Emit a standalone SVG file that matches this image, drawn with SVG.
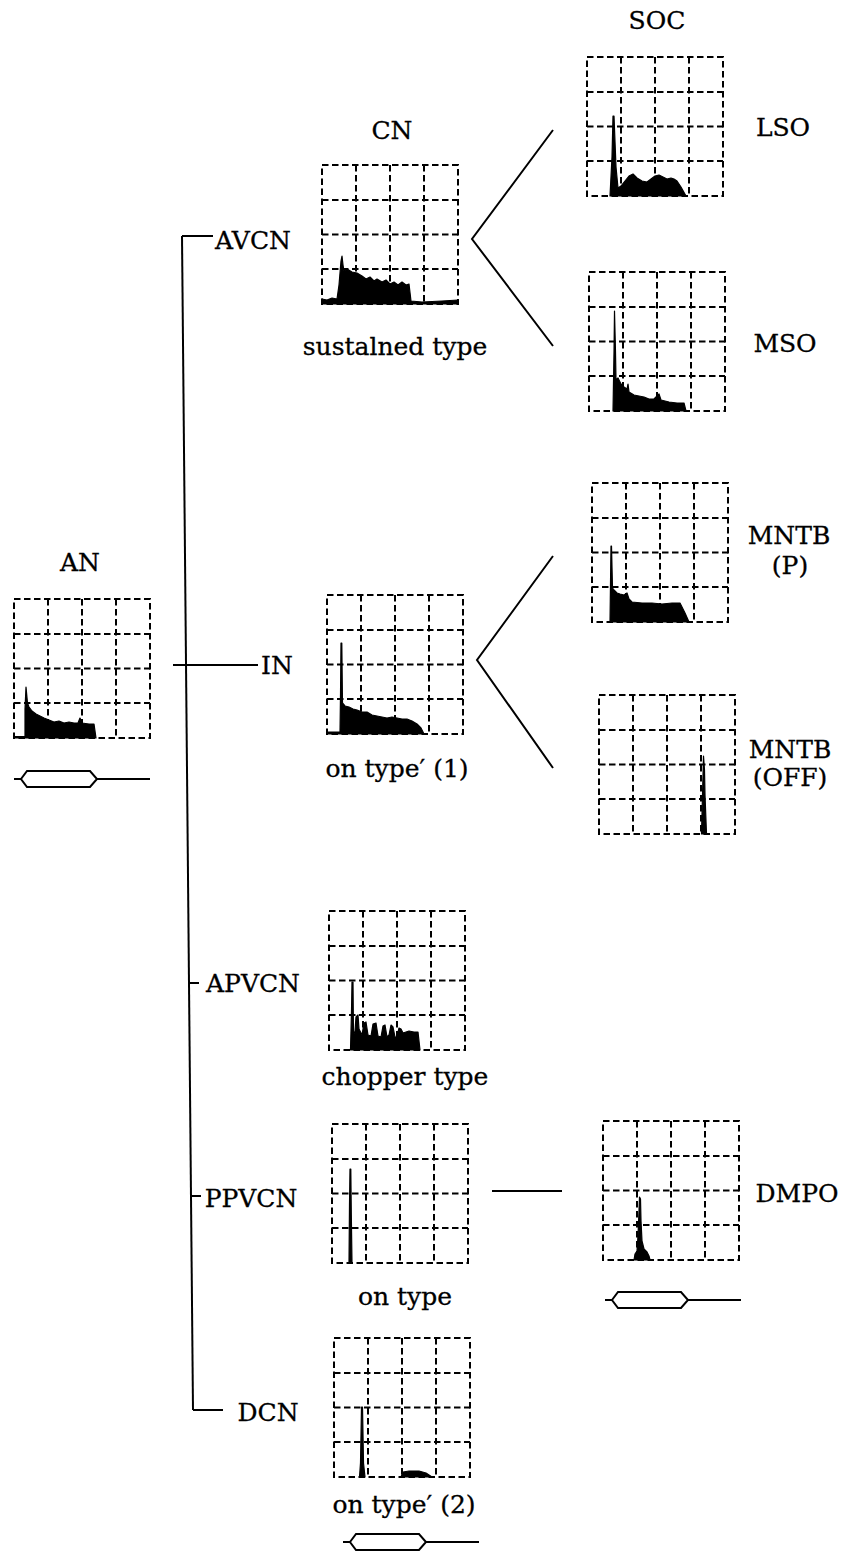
<svg xmlns="http://www.w3.org/2000/svg" xmlns:xlink="http://www.w3.org/1999/xlink" width="842" height="1552" viewBox="0 0 842 1552">
<style>
.lbl{font-family:"DejaVu Serif","Liberation Serif",serif;font-size:25px;fill:#000;stroke:#000;stroke-width:0.3;text-anchor:middle}
.grid{fill:none;stroke:#000;stroke-width:2;stroke-dasharray:6.5 3.5}
.hist{fill:#000;stroke:#000;stroke-width:1.2;stroke-linejoin:round}
.conn{fill:none;stroke:#000;stroke-width:2}
.stim{fill:#fff;stroke:#000;stroke-width:2}
</style>
<defs>
<g id="grid">
<rect class="grid" x="0" y="0" width="136" height="139"/>
<path class="grid" d="M34,0V139M68,0V139M102,0V139M0,35H136M0,69.5H136M0,104H136"/>
</g>
<g id="stimbar">
<path class="conn" d="M0,0H7M83,0H136"/>
<path class="stim" d="M7,0L13,-8H76L83,0L76,8H13Z"/>
</g>
</defs>
<rect width="842" height="1552" fill="#fff"/>

<g id="connectors">
<path class="conn" d="M182,236L193,1410"/>
<path class="conn" d="M182,236H213"/>
<path class="conn" d="M173,665H258"/>
<path class="conn" d="M189,983H199"/>
<path class="conn" d="M191,1196H201"/>
<path class="conn" d="M193,1410H223"/>
<path class="conn" d="M553,130L472,239L553,346"/>
<path class="conn" d="M553,556L477,660L553,768"/>
<path class="conn" d="M492,1191H562"/>
</g>

<g id="node-an">
<text class="lbl" x="80" y="571">AN</text>
<g transform="translate(14,599)">
<use xlink:href="#grid"/>
<path class="hist" d="M0,139L0,137.5L11,137.5L11,110L12,88L13.5,104L15,108L18,112L22,115L26,117L30,119L35,121L40,123L45,122L50,124L55,123L60,124L64,124L66,119L68,124L75,125L80,125L82,139Z"/>
</g>
<use xlink:href="#stimbar" x="14" y="779"/>
</g>

<g id="node-cn">
<text class="lbl" x="392" y="139">CN</text>
<text class="lbl" x="253" y="249">AVCN</text>
<g transform="translate(322,165)">
<use xlink:href="#grid"/>
<path class="hist" d="M0,139L0,134L5,135L10,133L15,134L17,120L19,96L20,91L21,100L22,106L25,104L30,107L35,108L40,111L44,114L48,112L52,116L55,114L60,117L64,115L68,119L72,117L76,120L80,117L84,120L87,119L89,136L100,137L120,136L136,135L136,139Z"/>
</g>
<text class="lbl" x="395" y="355">sustalned type</text>
</g>

<g id="node-soc-lso">
<text class="lbl" x="657" y="29">SOC</text>
<g transform="translate(587,57)">
<use xlink:href="#grid"/>
<path class="hist" d="M23,139L25,100L26,59L27,59L29,110L31,131L34,129L38,124L42,119L46,117L50,121L55,124L60,125L64,122L68,119L72,118L76,120L80,122L84,121L87,122L90,124L94,130L99,139Z"/>
</g>
<text class="lbl" x="783" y="136">LSO</text>
</g>

<g id="node-mso">
<g transform="translate(589,272)">
<use xlink:href="#grid"/>
<path class="hist" d="M24,139L25,80L25.5,39L26.5,80L27,108L29,106L32,112L35,115L38,117L39,112L40,120L45,123L50,124L55,125L60,127L65,127L68,124L70,122L72,128L80,130L88,131L95,131L97,139Z"/>
</g>
<text class="lbl" x="785" y="352">MSO</text>
</g>

<g id="node-mntb-p">
<g transform="translate(592,483)">
<use xlink:href="#grid"/>
<path class="hist" d="M18,139L18.5,100L19,63L19.5,63L20.5,105L22,107L25,110L28,111L32,112L35,110L37,116L40,119L50,120L60,120L70,121L80,120L88,120L93,130L97,139Z"/>
</g>
<text class="lbl" x="789" y="544">MNTB</text>
<text class="lbl" x="790" y="574">(P)</text>
</g>

<g id="node-mntb-off">
<g transform="translate(599,695)">
<use xlink:href="#grid"/>
<path class="hist" d="M102.5,139L103.5,100L104.5,61L105.5,75L106,100L107.5,139Z"/>
</g>
<text class="lbl" x="790" y="758">MNTB</text>
<text class="lbl" x="790" y="786">(OFF)</text>
</g>

<g id="node-in">
<text class="lbl" x="277" y="674">IN</text>
<g transform="translate(327,595)">
<use xlink:href="#grid"/>
<path class="hist" d="M0,139L0,137L13,137L13.5,100L14,48L14.8,48L15.5,108L18,111L22,112L26,114L30,115L35,117L40,117L45,120L50,121L55,122L60,123L65,122L70,123L75,124L80,124L85,126L90,129L94,133L97,139Z"/>
</g>
<text class="lbl" x="397" y="777">on type′ (1)</text>
</g>

<g id="node-apvcn">
<text class="lbl" x="253" y="992">APVCN</text>
<g transform="translate(329,911)">
<use xlink:href="#grid"/>
<path class="hist" d="M21.5,139L22.5,100L23,71L24,71L24.5,125L26,120L27,106L29,104L30,118L33,124L35,112L37,111L39,124L42,125L44,113L47,112L49,125L52,126L54,115L56,114L58,126L60,124L62,114L64,116L66,126L68,126L70,117L72,118L74,122L77,121L80,120L85,121L89,121L91,139Z"/>
</g>
<text class="lbl" x="405" y="1085">chopper type</text>
</g>

<g id="node-ppvcn">
<text class="lbl" x="251" y="1207">PPVCN</text>
<g transform="translate(332,1124)">
<use xlink:href="#grid"/>
<path class="hist" d="M17,139L17.5,80L18,45L18.8,45L19.3,90L20,139Z"/>
</g>
<text class="lbl" x="405" y="1305">on type</text>
</g>

<g id="node-dmpo">
<g transform="translate(603,1121)">
<use xlink:href="#grid"/>
<path class="hist" d="M31,139L32,133L34,130L35,115L36,90L36.5,76L37.5,78L38,100L39,120L41,128L44,131L46,135L47,139Z"/>
</g>
<text class="lbl" x="797" y="1202">DMPO</text>
<use xlink:href="#stimbar" x="605" y="1300"/>
</g>

<g id="node-dcn">
<text class="lbl" x="268" y="1421">DCN</text>
<g transform="translate(334,1338)">
<use xlink:href="#grid"/>
<path class="hist" d="M25.5,139L26.5,125L27.5,69L28.5,69L29.5,125L31,139ZM67,139L69,134L75,133L85,133L92,135L98,139Z"/>
</g>
<text class="lbl" x="404" y="1513">on type′ (2)</text>
<use xlink:href="#stimbar" x="343" y="1542"/>
</g>
</svg>
